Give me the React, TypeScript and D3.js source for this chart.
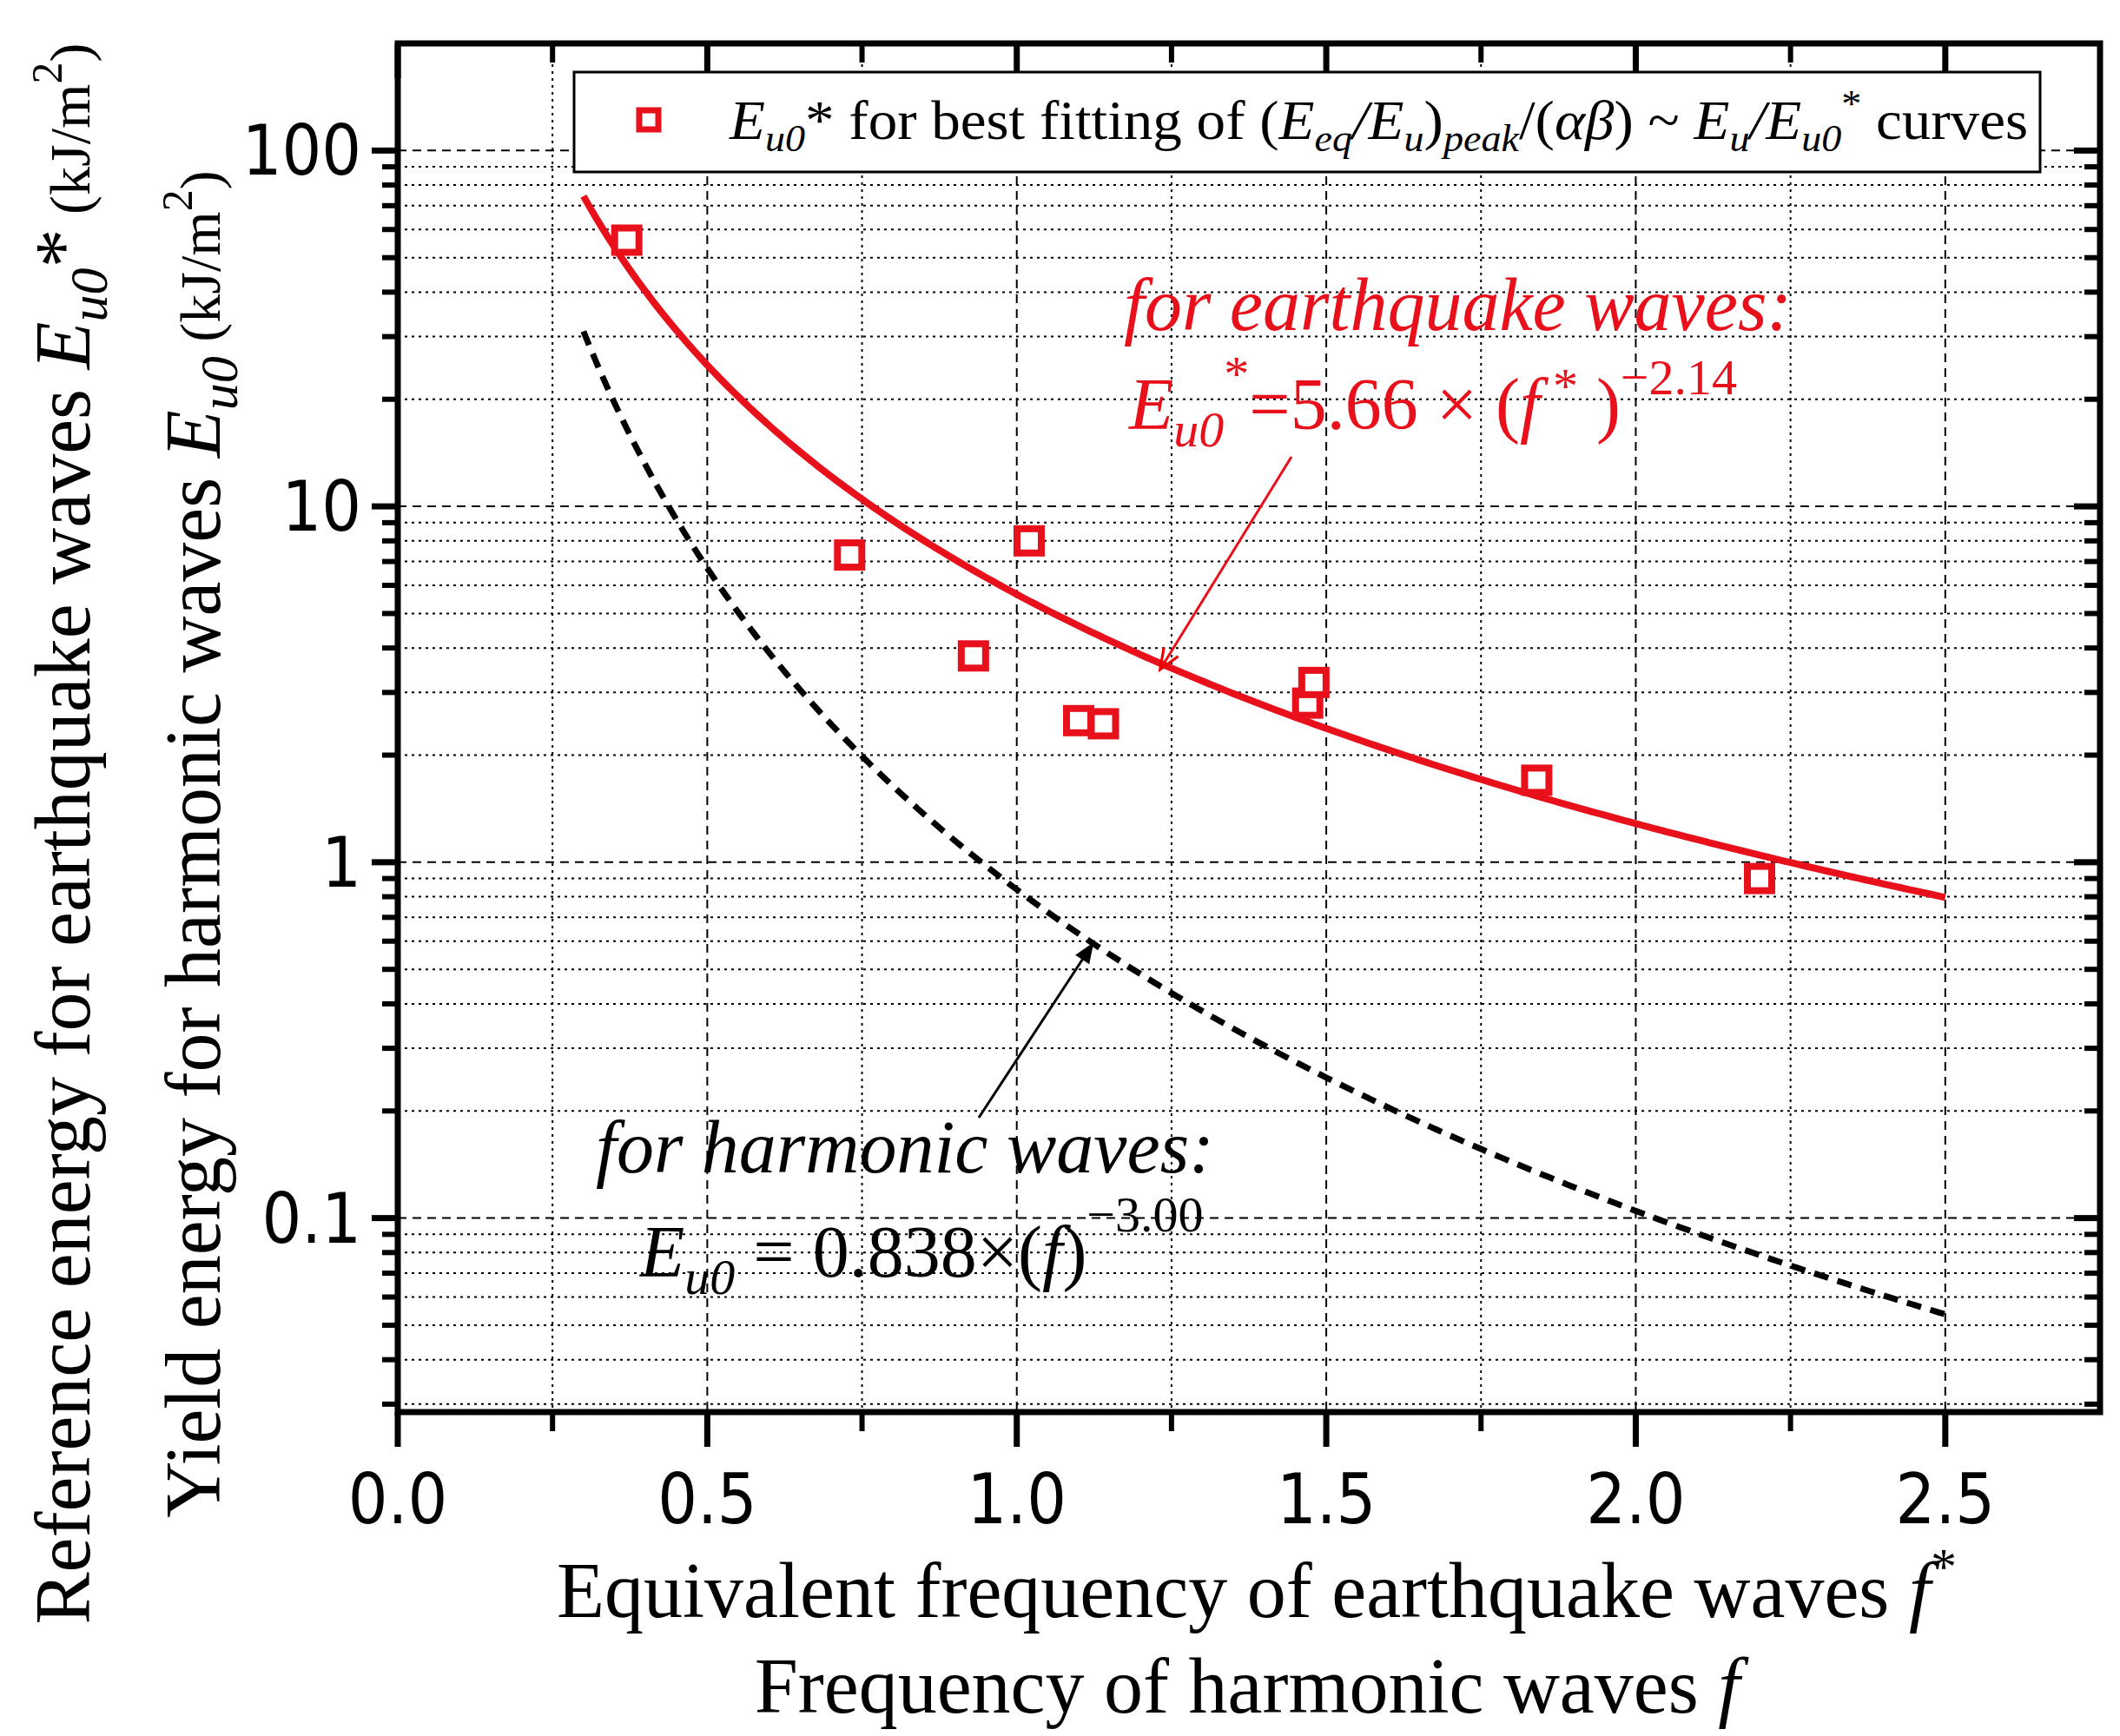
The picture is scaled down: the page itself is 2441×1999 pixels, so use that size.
import React from "react";
import * as d3 from "d3";

const pointsF = [0.37, 0.73, 0.93, 1.02, 1.10, 1.14, 1.47, 1.48, 1.84, 2.20];
const pointsE = [56, 7.3, 3.8, 8.0, 2.5, 2.45, 2.8, 3.2, 1.7, 0.9];
const eqCoef = 5.66, eqExp = -2.14;
const harmCoef = 0.838, harmExp = -3.0;
const curveRange = [0.3, 2.5];
const xTicks = [0, 0.5, 1.0, 1.5, 2.0, 2.5];
const yTicks = [0.1, 1, 10, 100];

const W = 2441, H = 1999;
const L = 458, R = 2418, T = 50, B = 1626;
const font = "'Liberation Serif', 'Times New Roman', serif";
const tickFont = "'DejaVu Sans Condensed', 'Liberation Sans Narrow', 'Liberation Sans', sans-serif";

export default function App() {
  const x = d3.scaleLinear().domain([0, 2.75]).range([L, R]);
  const y = d3.scaleLog().domain([0.0285, 200]).range([B, T]);
  const samples = d3.range(curveRange[0], curveRange[1] + 0.0001, 0.01);
  const eqPath = d3.line<number>().x(f => x(f)).y(f => y(eqCoef * Math.pow(f, eqExp)))(samples)!;
  const harmPath = d3.line<number>().x(f => x(f)).y(f => y(harmCoef * Math.pow(f, harmExp)))(samples)!;

  const minorX = d3.range(0.25, 2.75, 0.5);
  const minorY: number[] = [];
  [0.01, 0.1, 1, 10, 100].forEach(d => { for (let k = 2; k <= 9; k++) { const v = d * k; if (v > 0.0285 && v < 200) minorY.push(v); } });

  const it: React.CSSProperties = { fontStyle: "italic" };
  return (
    <svg width={W} height={H} style={{ position: "absolute", left: 0, top: 0 }} fontFamily={font}>
      <defs>
        <marker id="arR" viewBox="0 0 10 10" refX="9" refY="5" markerWidth="30" markerHeight="24" markerUnits="userSpaceOnUse" orient="auto">
          <path d="M0,1 L10,5 L0,9" fill="none" stroke="#e00" strokeWidth="1.3" />
        </marker>
        <marker id="arK" viewBox="0 0 10 10" refX="9" refY="5" markerWidth="30" markerHeight="24" markerUnits="userSpaceOnUse" orient="auto">
          <path d="M0,1 L10,5 L0,9 z" fill="#000" />
        </marker>
      </defs>
      {minorY.map((v, i) => <line key={"my" + i} x1={L} x2={R} y1={y(v)} y2={y(v)} stroke="#000" strokeWidth={2} strokeDasharray="3,5" />)}
      {yTicks.map((v, i) => <line key={"My" + i} x1={L} x2={R} y1={y(v)} y2={y(v)} stroke="#000" strokeWidth={2} strokeDasharray="10,7" />)}
      {minorX.map((v, i) => <line key={"mx" + i} x1={x(v)} x2={x(v)} y1={T} y2={B} stroke="#000" strokeWidth={2} strokeDasharray="3,5" />)}
      {xTicks.slice(1).map((v, i) => <line key={"Mx" + i} x1={x(v)} x2={x(v)} y1={T} y2={B} stroke="#000" strokeWidth={2} strokeDasharray="10,7" />)}
      <path d={eqPath} fill="none" stroke="#e8101a" strokeWidth={8} />
      <path d={harmPath} fill="none" stroke="#000" strokeWidth={7} strokeDasharray="17,11" />
      {pointsF.map((f, i) => (
        <rect key={i} x={x(f) - 14} y={y(pointsE[i]) - 14} width={28} height={28} fill="white" stroke="#e8101a" strokeWidth={8} />
      ))}
      <rect x={L} y={T} width={R - L} height={B - T} fill="none" stroke="#000" strokeWidth={7} />
      {xTicks.map((v, i) => <g key={"xt" + i}>
        <line x1={x(v)} x2={x(v)} y1={B} y2={B + 40} stroke="#000" strokeWidth={7} />
        <line x1={x(v)} x2={x(v)} y1={T} y2={T + 40} stroke="#000" strokeWidth={7} />
        <text x={x(v)} y={B + 128} fontSize={80} textAnchor="middle" fontFamily={tickFont}>{v.toFixed(1)}</text>
      </g>)}
      {minorX.map((v, i) => <g key={"xm" + i}>
        <line x1={x(v)} x2={x(v)} y1={B} y2={B + 22} stroke="#000" strokeWidth={6} />
        <line x1={x(v)} x2={x(v)} y1={T} y2={T + 22} stroke="#000" strokeWidth={6} />
      </g>)}
      {yTicks.map((v, i) => <g key={"yt" + i}>
        <line x1={L - 30} x2={L} y1={y(v)} y2={y(v)} stroke="#000" strokeWidth={7} />
        <line x1={R - 30} x2={R} y1={y(v)} y2={y(v)} stroke="#000" strokeWidth={7} />
        <text x={L - 42} y={y(v) + 28} fontSize={80} textAnchor="end" fontFamily={tickFont}>{String(v)}</text>
      </g>)}
      {minorY.map((v, i) => <g key={"ym" + i}>
        <line x1={L - 18} x2={L} y1={y(v)} y2={y(v)} stroke="#000" strokeWidth={6} />
        <line x1={R - 18} x2={R} y1={y(v)} y2={y(v)} stroke="#000" strokeWidth={6} />
      </g>)}
      <rect x={661} y={83} width={1688} height={115} fill="white" stroke="#000" strokeWidth={3} />
      <rect x={736} y={127} width={22} height={22} fill="white" stroke="#e8101a" strokeWidth={7} />
      <text x={840} y={160} fontSize={64} textLength={1495} lengthAdjust="spacingAndGlyphs">
        <tspan style={it}>E</tspan><tspan style={it} fontSize={44} dy={14}>u0</tspan><tspan dy={-14}>* for best fitting of (</tspan>
        <tspan style={it}>E</tspan><tspan style={it} fontSize={44} dy={14}>eq</tspan><tspan dy={-14} style={it}>/E</tspan><tspan style={it} fontSize={44} dy={14}>u</tspan><tspan dy={-14}>)</tspan><tspan style={it} fontSize={44} dy={14}>peak</tspan><tspan dy={-14}>/(</tspan><tspan style={it}>αβ</tspan><tspan>) ~ </tspan>
        <tspan style={it}>E</tspan><tspan style={it} fontSize={44} dy={14}>u</tspan><tspan dy={-14} style={it}>/E</tspan><tspan style={it} fontSize={44} dy={14}>u0</tspan><tspan fontSize={44} dy={-40}>*</tspan><tspan dy={26}> curves</tspan>
      </text>
      <text x={1294} y={380} fontSize={86} fill="#e8101a" style={it}>for earthquake waves:</text>
      <text x={1300} y={494} fontSize={84} fill="#e8101a">
        <tspan style={it}>E</tspan><tspan style={it} fontSize={58} dy={20}>u0</tspan><tspan fontSize={58} dy={-64}>*</tspan><tspan dy={44}>=5.66 × (</tspan><tspan style={it}>f</tspan><tspan fontSize={58} dy={-30}> *</tspan><tspan dy={30}> )</tspan><tspan fontSize={58} dy={-40}>−2.14</tspan>
      </text>
      <line x1={1487} y1={526} x2={1337} y2={769} stroke="#e8101a" strokeWidth={3} markerEnd="url(#arR)" />
      <text x={686} y={1350} fontSize={86} style={it}>for harmonic waves:</text>
      <text x={737} y={1470} fontSize={84}>
        <tspan style={it}>E</tspan><tspan style={it} fontSize={58} dy={20}>u0</tspan><tspan dy={-20}> = 0.838×(</tspan><tspan style={it}>f</tspan><tspan>)</tspan><tspan fontSize={58} dy={-52}>−3.00</tspan>
      </text>
      <line x1={1127} y1={1287} x2={1258} y2={1087} stroke="#000" strokeWidth={3} markerEnd="url(#arK)" />
      <text x={1447} y={1862} fontSize={90} textAnchor="middle">Equivalent frequency of earthquake waves <tspan style={it}>f</tspan><tspan fontSize={60} dy={-38}>*</tspan></text>
      <text x={1436} y={1972} fontSize={90} textAnchor="middle">Frequency of harmonic waves <tspan style={it}>f</tspan></text>
      <text transform="translate(103,960) rotate(-90)" fontSize={90} textAnchor="middle">
        Reference energy for earthquake waves <tspan style={it}>E</tspan><tspan style={it} fontSize={62} dy={20}>u0</tspan><tspan dy={-20}>*</tspan><tspan fontSize={66}> (kJ/m</tspan><tspan fontSize={50} dy={-32}>2</tspan><tspan fontSize={66} dy={32}>)</tspan>
      </text>
      <text transform="translate(253,972) rotate(-90)" fontSize={90} textAnchor="middle">
        Yield energy for harmonic waves <tspan style={it}>E</tspan><tspan style={it} fontSize={62} dy={20}>u0</tspan><tspan fontSize={66} dy={-20}> (kJ/m</tspan><tspan fontSize={50} dy={-32}>2</tspan><tspan fontSize={66} dy={32}>)</tspan>
      </text>
    </svg>
  );
}
